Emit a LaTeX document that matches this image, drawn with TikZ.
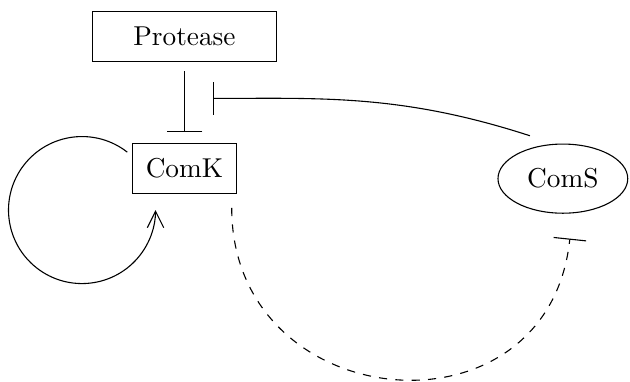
\documentclass[tikz,border=0pt]{standalone}
\usetikzlibrary{arrows.meta,shapes.geometric}
\begin{document}
\begin{tikzpicture}[gene/.style={draw, minimum height=0.64cm},
        inhibit/.style={-{Bar[width=4.2mm]}},
        activate/.style={-{Straight Barb[length=6pt,width=6pt]}}]
        \useasboundingbox (-2.374,-2.735) rectangle (5.734,2.169);
        \node[gene, minimum width=2.37cm] (protease) at (0,1.7) {Protease};
        \node[gene, minimum width=1.33cm] (comk) at (0,0) {ComK};
        \node[draw, ellipse, inner sep=0pt, minimum width=1.67cm, minimum height=0.89cm] (coms) at (4.87,-0.13) {ComS};
        \draw[-{Bar[width=4.6mm]}, shorten <=0.12cm, shorten >=0.14cm] (protease) -- coordinate[pos=0.45] (hit) (comk);
        \draw[inhibit, shorten >=0.37cm] ([xshift=-0.425cm, yshift=0.1cm]coms.north) to[out=162, in=0] (hit);
        \draw[activate] ([xshift=-0.064cm, yshift=-0.116cm]comk.north west) arc[start angle=52, end angle=360, radius=0.946cm];
        \draw[inhibit, dashed] ([xshift=-0.064cm, yshift=-0.18cm]comk.south east)
            to[out=-90, in=-96, looseness=1.57] ([xshift=0.09cm, yshift=-0.32cm]coms.south);
    \end{tikzpicture}
\end{document}
